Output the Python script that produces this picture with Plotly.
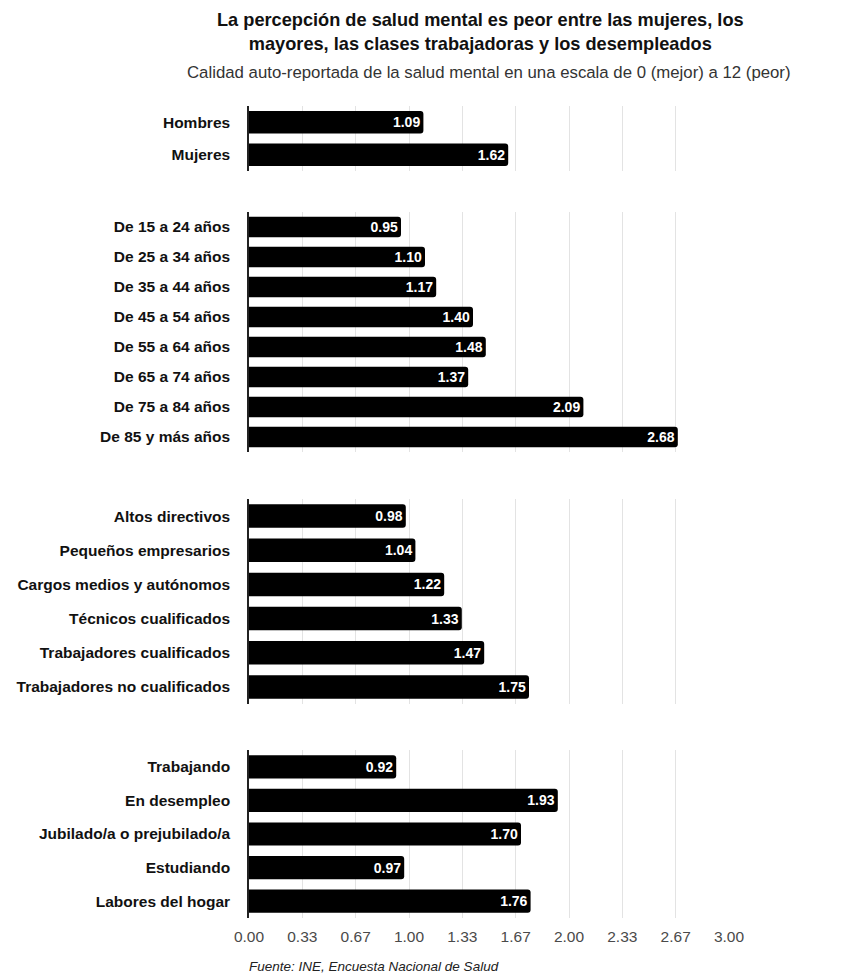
import plotly.graph_objects as go

# ---- data ----
sexo_cats = ["Hombres", "Mujeres"]
sexo_vals = [1.09, 1.62]

edad_cats = ["De 15 a 24 años", "De 25 a 34 años", "De 35 a 44 años", "De 45 a 54 años",
             "De 55 a 64 años", "De 65 a 74 años", "De 75 a 84 años", "De 85 y más años"]
edad_vals = [0.95, 1.10, 1.17, 1.40, 1.48, 1.37, 2.09, 2.68]

clase_cats = ["Altos directivos", "Pequeños empresarios", "Cargos medios y autónomos",
              "Técnicos cualificados", "Trabajadores cualificados", "Trabajadores no cualificados"]
clase_vals = [0.98, 1.04, 1.22, 1.33, 1.47, 1.75]

act_cats = ["Trabajando", "En desempleo", "Jubilado/a o prejubilado/a", "Estudiando", "Labores del hogar"]
act_vals = [0.92, 1.93, 1.70, 0.97, 1.76]

tick_vals = [0, 1/3, 2/3, 1, 4/3, 5/3, 2, 7/3, 8/3, 3]
tick_text = ["0.00", "0.33", "0.67", "1.00", "1.33", "1.67", "2.00", "2.33", "2.67", "3.00"]

title = "<b>La percepción de salud mental es peor entre las mujeres, los<br>mayores, las clases trabajadoras y los desempleados</b>"
subtitle = "Calidad auto-reportada de la salud mental en una escala de 0 (mejor) a 12 (peor)"
source = "<i>Fuente: INE, Encuesta Nacional de Salud</i>"

FONT = "Liberation Sans, Arial, sans-serif"
W = 853
H = 971
L = 241
R = 721

groups = [(sexo_cats, sexo_vals), (edad_cats, edad_vals), (clase_cats, clase_vals), (act_cats, act_vals)]
# pixel extents of panels (top, bottom) in figure coordinates
panels_px = [(98, 163), (204, 444), (491, 696), (742, 910)]

fig = go.Figure()
layout = {}
for i, ((cats, vals), (top, bot)) in enumerate(zip(groups, panels_px), start=1):
    suffix = "" if i == 1 else str(i)
    fig.add_trace(go.Bar(
        x=vals, y=cats, orientation="h",
        xaxis="x" + suffix, yaxis="y" + suffix,
        marker=dict(color="#000000", line=dict(width=0)),
        texttemplate="%{x:.2f}", textposition="inside", insidetextanchor="end",
        constraintext="none",
        textfont=dict(family=FONT, size=14, color="white", weight="bold"),
        hoverinfo="skip", showlegend=False,
    ))
    layout["xaxis" + suffix] = dict(
        domain=[0, 1], anchor="y" + suffix, range=[0, 3],
        tickvals=tick_vals, ticktext=tick_text,
        showticklabels=(i == 4), showgrid=True, gridcolor="#e3e3e3", gridwidth=1,
        zeroline=False, showline=False, ticks="", ticklabelstandoff=7,
        tickfont=dict(family=FONT, size=15.5, color="#4a4a4a"),
        automargin=False, fixedrange=True,
    )
    layout["yaxis" + suffix] = dict(
        domain=[1 - bot / H, 1 - top / H], anchor="x" + suffix,
        type="category", autorange="reversed",
        showgrid=False, zeroline=False, showline=True, linecolor="#222222", linewidth=1.5,
        ticks="", ticklabelstandoff=14,
        tickfont=dict(family=FONT, size=15.5, color="#111111", weight="bold"),
        automargin=False, fixedrange=True,
    )

fig.update_layout(**layout)
fig.update_layout(
    width=W, height=H,
    margin=dict(l=L, r=W - R, t=0, b=0),
    paper_bgcolor="white", plot_bgcolor="white",
    bargap=0.31, barcornerradius=3,
    uniformtext=dict(minsize=14, mode="show"),
    font=dict(family=FONT),
    annotations=[
        dict(text=title, xref="paper", yref="paper", x=0.483, y=1 - 0.5 / H, xanchor="center", yanchor="top",
             showarrow=False, font=dict(family=FONT, size=18.2, color="#111111"), align="center"),
        dict(text=subtitle, xref="paper", yref="paper", x=0.5, y=1 - 53 / H, xanchor="center", yanchor="top",
             showarrow=False, font=dict(family=FONT, size=16.8, color="#333333")),
        dict(text=source, xref="paper", yref="paper", x=-0.004, y=1 - 949 / H, xanchor="left", yanchor="top",
             showarrow=False, font=dict(family=FONT, size=13.5, color="#222222")),
    ],
)

fig.write_html("out.html")
